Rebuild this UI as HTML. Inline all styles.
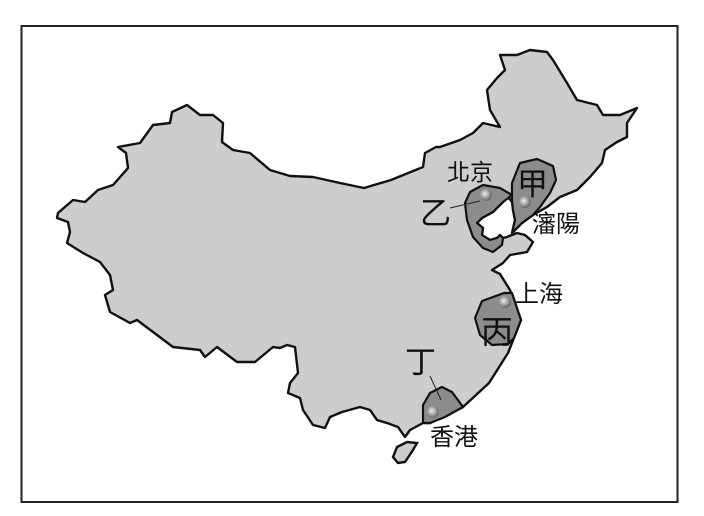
<!DOCTYPE html>
<html><head><meta charset="utf-8"><style>
html,body{margin:0;padding:0;background:#fff;}
svg{display:block;}
text{font-family:"Liberation Sans","Noto Sans CJK TC",sans-serif;fill:#111;}
</style></head><body>
<svg width="704" height="516" viewBox="0 0 704 516" xmlns="http://www.w3.org/2000/svg">
<defs>
<radialGradient id="g" cx="0.4" cy="0.4" r="0.6">
<stop offset="0" stop-color="#eee"/><stop offset="0.5" stop-color="#aaa"/><stop offset="1" stop-color="#666"/>
</radialGradient>
</defs>
<rect x="0" y="0" width="704" height="516" fill="#fff"/>
<rect x="21.5" y="26" width="656" height="476" fill="none" stroke="#222" stroke-width="2"/>
<path fill="#cdcdcd" stroke="#111" stroke-width="2.4" stroke-linejoin="round" d="
M57,218 L58,213 L73,200 L85,202 L98,190 L113,185 L128,168 L126,153 L118,147 L140,143 L153,125 L170,123 L172,112 L187,105 L200,115 L213,115 L223,123 L222,142 L233,150 L250,153 L270,170 L290,176 L313,177 L340,183 L364,188 L391,180 L423,167 L425,153 L436,147 L440,147 L460,140 L473,133 L483,123 L500,127 L490,110 L487,90 L497,78 L505,70 L500,55 L517,55 L530,50 L547,52 L553,60 L567,83 L577,100 L597,105 L603,115 L620,115 L637,108 L627,123 L627,137 L617,142 L605,150 L602,163 L590,177 L577,190 L560,197 L547,207 L533,215 L522,223 L512,233 L515,220 L513,210 L512,202 L508,197 L503,202 L493,212 L482,218 L477,223 L483,228 L482,235 L490,240 L497,238 L500,235 L503,238 L507,237 L517,233 L525,235 L533,242 L527,252 L510,255 L503,263 L492,270 L500,274 L510,290 L521,320 L508,353 L489,383 L463,407 L430,423 L423,423 L410,430 L405,437 L398,427 L387,423 L377,420 L370,410 L360,407 L342,412 L330,417 L325,428 L313,425 L303,410 L300,398 L288,393 L290,383 L298,373 L295,347 L287,345 L280,348 L273,347 L255,362 L237,362 L217,347 L205,357 L200,350 L173,347 L137,320 L130,323 L110,312 L105,295 L113,290 L110,275 L100,262 L83,253 L67,243 L70,232 L68,222 Z"/>
<path fill="#cdcdcd" stroke="#111" stroke-width="2.4" d="M393,457 L397,447 L407,442 L417,443 L413,450 L405,462 L398,463 Z"/>
<!-- 乙 -->
<path fill="#8c8c8c" stroke="#111" stroke-width="2.2" stroke-linejoin="round" d="M512,195 L500,188 L483,185 L470,192 L465,203 L467,220 L473,237 L483,248 L493,252 L502,245 L503,238 L500,235 L497,238 L490,240 L482,235 L483,228 L477,223 L482,218 L493,212 L503,202 Z"/>
<!-- 甲 -->
<path fill="#8c8c8c" stroke="#111" stroke-width="2.2" stroke-linejoin="round" d="M512,233 L515,220 L513,210 L512,200 L512,183 L520,163 L537,159 L553,166 L556,180 L550,193 L540,207 L533,215 L522,223 Z"/>
<!-- 丙 -->
<path fill="#8c8c8c" stroke="#111" stroke-width="2.2" stroke-linejoin="round" d="M504,293 L512,293 L521,320 L514,338 L508,344 L492,345 L480,335 L475,318 L482,301 Z"/>
<!-- 丁 -->
<path fill="#8c8c8c" stroke="#111" stroke-width="2.2" stroke-linejoin="round" d="M423,423 L423,405 L430,393 L442,387 L452,392 L463,407 L445,417 L430,423 Z"/>
<circle cx="486" cy="195" r="6" fill="url(#g)"/>
<circle cx="525" cy="202" r="6" fill="url(#g)"/>
<circle cx="505" cy="302" r="6" fill="url(#g)"/>
<circle cx="433" cy="412" r="6" fill="url(#g)"/>
<line x1="450" y1="208" x2="480" y2="201" stroke="#222" stroke-width="1"/>
<line x1="430" y1="376" x2="441" y2="400" stroke="#222" stroke-width="1"/>
<text x="447" y="180" font-size="23">北京</text>
<text x="517" y="195" font-size="31">甲</text>
<text x="420" y="224" font-size="31">乙</text>
<text x="532" y="232" font-size="24">瀋陽</text>
<text x="515" y="302" font-size="24">上海</text>
<text x="481" y="343" font-size="32">丙</text>
<text x="405" y="373" font-size="31">丁</text>
<text x="430" y="445" font-size="24">香港</text>
</svg>
</body></html>
